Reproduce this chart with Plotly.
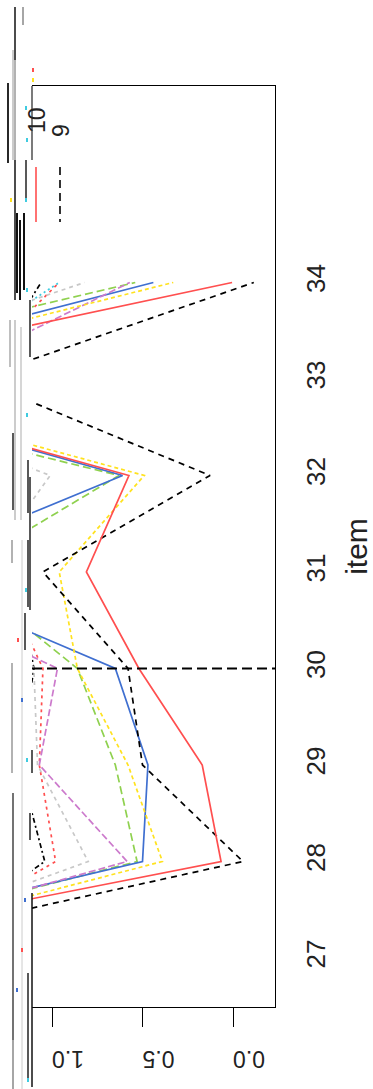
import plotly.graph_objects as go

# ---- data -------------------------------------------------------------
items = [27, 28, 29, 30, 31, 32, 33, 34]
s1 = [1.80, 1.04, 1.18, 1.10, 1.20, 1.30, 1.40, 1.06]
s2 = [1.90, 0.98, 1.07, 1.05, 1.30, 1.20, 1.50, 0.96]
s3 = [2.60, 0.53, 0.65, 0.86, 1.52, 0.63, 2.80, 0.54]
s4 = [2.75, 0.50, 0.47, 0.65, 1.90, 0.61, 2.50, 0.44]
s5 = [1.50, 1.15, 1.20, 1.15, 1.20, 1.30, 1.77, 0.96]
s6 = [2.50, 0.585, 1.07, 0.97, 2.10, 1.90, 1.66, 0.57]
s7 = [2.43, 0.39, 0.58, 0.86, 0.96, 0.49, 2.45, 0.33]
s8 = [2.27, 0.80, 1.08, 1.10, 1.39, 1.01, 2.40, 0.82]
s9 = [2.36, -0.055, 0.50, 0.58, 1.05, 0.127, 1.42, -0.115]
s10 = [2.77, 0.066, 0.17, 0.52, 0.81, 0.575, 2.50, 0.005]

series_names = ["1", "2", "3", "4", "5", "6", "7", "8", "9", "10"]
value_ticks = [0.0, 0.5, 1.0]
value_labels = ["0.0", "0.5", "1.0"]
item_labels = [str(i) for i in items]
legend_names = ["10", "9"]
marker_item = 30

# ---- styling ----------------------------------------------------------
W, H = 373, 1089
L, R, T, B = 32, 98, 86, 82
FONT = "Liberation Sans, Arial, sans-serif"

styles = [
    ("#000000", "5px,3px,2px,3px"),
    ("#FF4F4F", "3px,4px"),
    ("#8FD14F", "8px,4px"),
    ("#3F6FD0", "solid"),
    ("#3FCBE0", "2px,3px"),
    ("#CC7ACC", "7px,3px"),
    ("#FFE21F", "4px,3px"),
    ("#C8C8C8", "4px,4px"),
    ("#000000", "6px,5px"),
    ("#FF4F4F", "solid"),
]


def px(x):
    return (x - L) / (W - L - R)


def py(y):
    return (H - B - y) / (H - T - B)


fig = go.Figure()
all_series = [s1, s2, s3, s4, s5, s6, s7, s8, s9, s10]
for name, vals, (col, dash) in zip(series_names, all_series, styles):
    fig.add_trace(go.Scatter(
        x=vals, y=items, mode="lines", name=name, showlegend=False,
        line=dict(color=col, width=1.7, dash=dash),
    ))

shapes = []
# vertical reference line at item 30
shapes.append(dict(type="line", xref="paper", x0=0, x1=1, yref="y",
                   y0=marker_item, y1=marker_item,
                   line=dict(color="black", width=2, dash="10px,5px")))

# legend keys
shapes.append(dict(type="line", xref="paper", yref="paper",
                   x0=px(36), x1=px(36), y0=py(167), y1=py(222),
                   line=dict(color="#FF4F4F", width=1.6)))
shapes.append(dict(type="line", xref="paper", yref="paper",
                   x0=px(60), x1=px(60), y0=py(167), y1=py(222),
                   line=dict(color="black", width=1.6, dash="8px,5px")))

# overdrawn strip along the left edge
strip = [
    (15, 7, 60, "#111", 1.5), (15, 60, 160, "#999", 1.5), (15, 160, 300, "#111", 1.5),
    (15, 320, 520, "#aaa", 1.2), (23, 7, 25, "#888", 1.5), (8, 83, 163, "#111", 1.8),
    (13, 50, 160, "#aaa", 1.2), (17, 213, 293, "#111", 2), (20, 220, 300, "#111", 2),
    (24, 213, 290, "#111", 2), (10, 320, 367, "#aaa", 1.5), (21, 327, 520, "#bbb", 1.2),
    (13, 433, 510, "#222", 1.5), (28, 460, 513, "#222", 1.5), (28, 540, 607, "#222", 1.5),
    (12, 540, 563, "#999", 1.5), (25, 613, 650, "#222", 1.5), (12, 663, 773, "#999", 1.5),
    (32, 750, 773, "#222", 1.5), (13, 793, 1040, "#444", 1.5), (30, 813, 840, "#222", 1.5),
    (32, 893, 1087, "#111", 1.5), (28, 973, 1080, "#222", 1.5), (22, 540, 1089, "#ccc", 1.0),
    (13, 1040, 1089, "#888", 1.5), (30, 300, 357, "#222", 1.5), (30, 477, 610, "#222", 1.5),
    (32, 86, 160, "#222", 1.2), (26, 160, 200, "#222", 1.5),
]
for x, y0, y1, c, w in strip:
    shapes.append(dict(type="line", xref="paper", yref="paper",
                       x0=px(x), x1=px(x), y0=py(y0), y1=py(y1),
                       line=dict(color=c, width=w)))

specks = [
    (26, 108, "#3FCBE0"), (27, 140, "#3FCBE0"), (26, 200, "#3FCBE0"), (27, 290, "#3FCBE0"),
    (33, 70, "#FF4F4F"), (33, 80, "#FFE21F"), (27, 415, "#3FCBE0"), (26, 590, "#3FCBE0"),
    (18, 640, "#FF4F4F"), (22, 700, "#3F6FD0"), (27, 760, "#3FCBE0"), (25, 900, "#3F6FD0"),
    (17, 990, "#3F6FD0"), (28, 1080, "#3FCBE0"), (11, 200, "#FFE21F"), (22, 950, "#FF4F4F"),
]
for x, y, c in specks:
    shapes.append(dict(type="rect", xref="paper", yref="paper",
                       x0=px(x - 1), x1=px(x + 1), y0=py(y + 2), y1=py(y - 2),
                       line=dict(width=0), fillcolor=c))

annotations = [
    dict(text=legend_names[0], xref="paper", yref="paper", x=px(37), y=py(120),
         xanchor="center", yanchor="middle",
         showarrow=False, textangle=-90, font=dict(family=FONT, size=23, color="#222")),
    dict(text=legend_names[1], xref="paper", yref="paper", x=px(61), y=py(131),
         xanchor="center", yanchor="middle",
         showarrow=False, textangle=-90, font=dict(family=FONT, size=23, color="#222")),
]

fig.update_layout(
    width=W, height=H,
    margin=dict(l=L, r=R, t=T, b=B, pad=0, autoexpand=False),
    paper_bgcolor="white", plot_bgcolor="white",
    shapes=shapes, annotations=annotations,
    font=dict(family=FONT, color="#222"),
)
fig.update_xaxes(
    range=[1.1105, -0.232], tickvals=value_ticks, ticktext=value_labels,
    tickangle=180, ticks="outside", ticklen=19, tickwidth=1.3, tickcolor="black",
    showline=True, mirror=True, linecolor="black", linewidth=1.3,
    showgrid=False, zeroline=False, automargin=False,
    tickfont=dict(family=FONT, size=23, color="#222"), ticklabelstandoff=19,
)
fig.update_yaxes(
    range=[26.492, 36.036], side="right", tickvals=items, ticktext=item_labels,
    tickangle=-90, ticks="", showline=True, mirror=False,
    linecolor="black", linewidth=1.3, showgrid=False, zeroline=False, automargin=False,
    tickfont=dict(family=FONT, size=26, color="#222"), ticklabelstandoff=18,
    title=dict(text="item", font=dict(family=FONT, size=30, color="#222"), standoff=24),
)

fig.write_html("out.html")
